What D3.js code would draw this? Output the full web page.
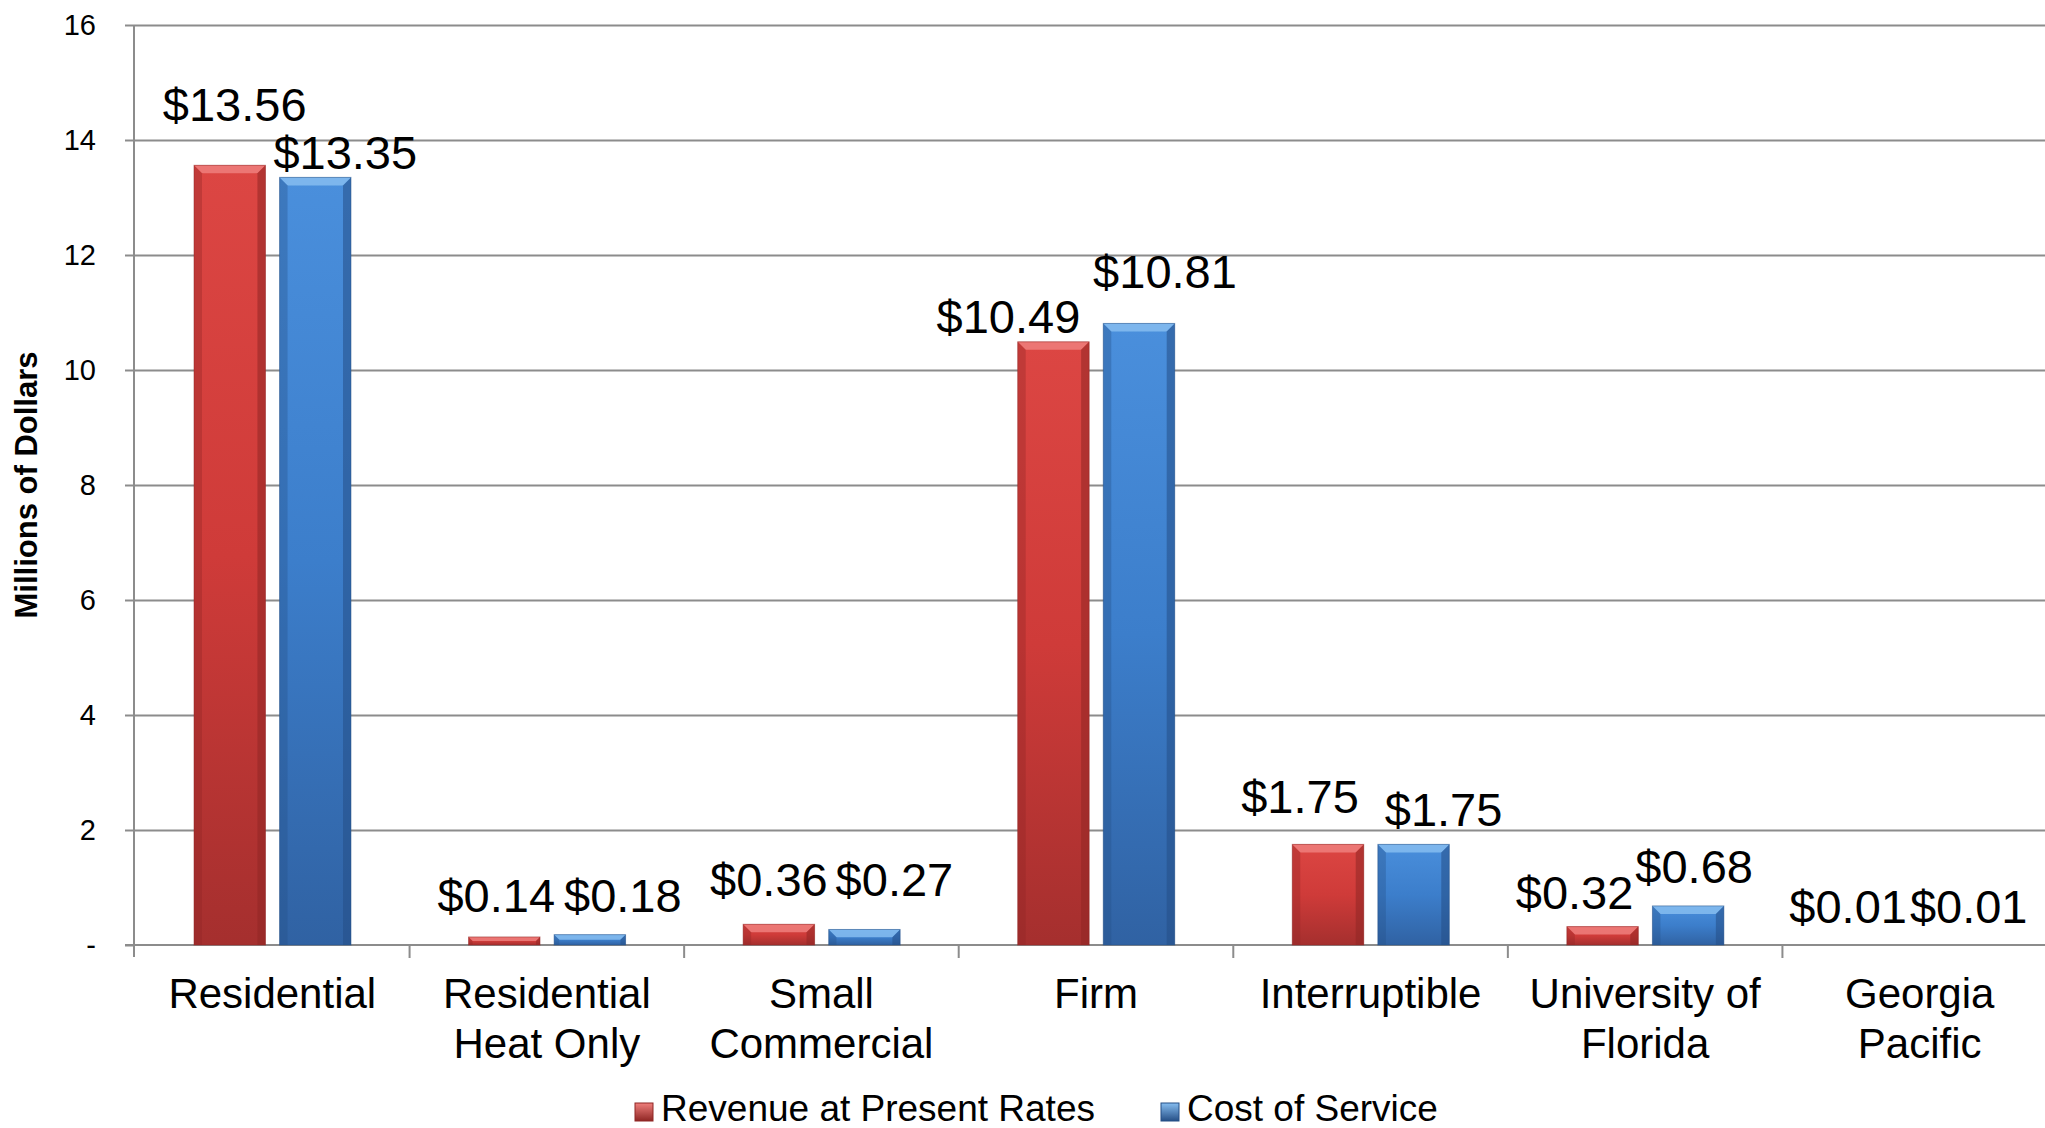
<!DOCTYPE html>
<html>
<head>
<meta charset="utf-8">
<script src="https://cdn.jsdelivr.net/npm/d3@7"></script>
<style>
  html, body { margin: 0; padding: 0; background: #fff; }
  svg { display: block; font-family: "Liberation Sans", Arial, sans-serif; }
</style>
</head>
<body>
<svg id="chart" width="2045" height="1128"></svg>
<script>
// ---- data ----
const categories = ["Residential", "Residential\nHeat Only", "Small\nCommercial", "Firm", "Interruptible", "University of\nFlorida", "Georgia\nPacific"];
const seriesNames = ["Revenue at Present Rates", "Cost of Service"];
const revenue = [13.56, 0.14, 0.36, 10.49, 1.75, 0.32, 0.01];
const cost    = [13.35, 0.18, 0.27, 10.81, 1.75, 0.68, 0.01];
const yTicks = [0, 2, 4, 6, 8, 10, 12, 14, 16];

// ---- layout (label nudges relative to bar centre / top) ----
const revenueLabelNudge = [[5, -61], [-8, -42], [-10, -45], [-45, -26], [-28, -48], [-28, -35], [-29, -38]];
const costLabelNudge    = [[30, -25], [33, -40], [30, -50], [26, -52], [30, -35], [6, -40], [6, -38]];

const W = 2045, H = 1128;
const svg = d3.select("#chart");
const defs = svg.append("defs");

const x0 = d3.scaleBand().domain(categories).range([135, 2057]).paddingInner(0).paddingOuter(0);
const x1 = d3.scaleBand().domain(seriesNames).range([59, 216]).paddingInner(0.165).paddingOuter(0);
const y = d3.scaleLinear().domain([0, 16]).range([945, 25]);

const colors = {
  "Revenue at Present Rates": { top: "#dc4643", mid: "#cf3b39", bot: "#a52f2e", light: "#ef7f7c", dark: "#8f2624" },
  "Cost of Service":          { top: "#4a8fdc", mid: "#3c7ecb", bot: "#3062a3", light: "#86bdf0", dark: "#254f86" }
};

// gradients
seriesNames.forEach((s, i) => {
  const c = colors[s];
  const g = defs.append("linearGradient").attr("id", "grad" + i).attr("x1", 0).attr("y1", 0).attr("x2", 0).attr("y2", 1);
  g.append("stop").attr("offset", "0%").attr("stop-color", c.top);
  g.append("stop").attr("offset", "50%").attr("stop-color", c.mid);
  g.append("stop").attr("offset", "100%").attr("stop-color", c.bot);
  const gl = defs.append("linearGradient").attr("id", "legGrad" + i).attr("x1", 0).attr("y1", 0).attr("x2", 0).attr("y2", 1);
  gl.append("stop").attr("offset", "0%").attr("stop-color", c.light);
  gl.append("stop").attr("offset", "100%").attr("stop-color", c.dark);
});

// gridlines
const gridColor = "#8c8c8c";
const grid = svg.append("g").attr("transform", "translate(134,0)")
  .call(d3.axisLeft(y).tickValues(yTicks.filter(d => d !== 0)).tickSize(-(W - 134)).tickFormat(""));
grid.select(".domain").remove();
grid.selectAll("line").attr("stroke", gridColor).attr("stroke-width", 2);

// y axis
const yAxis = svg.append("g").attr("transform", "translate(134,0)")
  .call(d3.axisLeft(y).tickValues(yTicks).tickSize(9).tickPadding(38)
    .tickFormat(d => d === 0 ? "-" : d));
yAxis.select(".domain").attr("stroke", gridColor).attr("stroke-width", 2).attr("d", "M0,25V957");
yAxis.selectAll(".tick line").attr("stroke", gridColor).attr("stroke-width", 2);
yAxis.selectAll(".tick text").attr("font-size", 29).attr("fill", "#000")
  .attr("font-family", "'Liberation Sans', Arial, sans-serif")
  .attr("x", -38);

// x axis baseline + category ticks
svg.append("line").attr("x1", 125).attr("x2", W).attr("y1", y(0)).attr("y2", y(0))
  .attr("stroke", gridColor).attr("stroke-width", 2);
svg.append("g").selectAll("line").data(categories.slice(1)).join("line")
  .attr("x1", d => x0(d)).attr("x2", d => x0(d))
  .attr("y1", y(0)).attr("y2", y(0) + 13)
  .attr("stroke", gridColor).attr("stroke-width", 2);

// bars
const seriesValues = [revenue, cost];
const nudges = [revenueLabelNudge, costLabelNudge];

function drawBar(g, xL, w, yT, yB, i) {
  const c = colors[seriesNames[i]];
  const h = yB - yT;
  if (h < 1) return;
  g.append("rect").attr("x", xL).attr("y", yT).attr("width", w).attr("height", h)
    .attr("fill", `url(#grad${i})`);
  const b = Math.min(8, h / 2);
  g.append("path").attr("d", `M${xL},${yT}L${xL + w},${yT}L${xL + w - b},${yT + b}L${xL + b},${yT + b}Z`)
    .attr("fill", c.light).attr("opacity", 0.85);
  g.append("path").attr("d", `M${xL},${yT}L${xL + b},${yT + b}L${xL + b},${yB}L${xL},${yB}Z`)
    .attr("fill", c.dark).attr("opacity", 0.35);
  g.append("path").attr("d", `M${xL + w},${yT}L${xL + w - b},${yT + b}L${xL + w - b},${yB}L${xL + w},${yB}Z`)
    .attr("fill", c.dark).attr("opacity", 0.55);
  g.append("rect").attr("x", xL).attr("y", yT).attr("width", w).attr("height", h)
    .attr("fill", "none").attr("stroke", c.dark).attr("stroke-opacity", 0.5).attr("stroke-width", 1);
}

const barsG = svg.append("g");
const labelsG = svg.append("g");
categories.forEach((cat, ci) => {
  seriesNames.forEach((s, si) => {
    const v = seriesValues[si][ci];
    const xL = x0(cat) + x1(s);
    const w = x1.bandwidth();
    drawBar(barsG, xL, w, y(v), y(0), si);
    const [dx, dy] = nudges[si][ci];
    labelsG.append("text")
      .attr("x", xL + w / 2 + dx)
      .attr("y", y(v) + dy)
      .attr("dy", "0.36em")
      .attr("text-anchor", "middle")
      .attr("font-size", 47)
      .attr("fill", "#000")
      .text("$" + v.toFixed(2));
  });
});

// category labels
const catG = svg.append("g");
categories.forEach(cat => {
  const lines = cat.split("\n");
  const t = catG.append("text")
    .attr("x", x0(cat) + x0.bandwidth() / 2)
    .attr("y", 1008)
    .attr("text-anchor", "middle")
    .attr("font-size", 42)
    .attr("fill", "#000");
  lines.forEach((ln, li) => {
    t.append("tspan").attr("x", x0(cat) + x0.bandwidth() / 2).attr("dy", li === 0 ? 0 : 50).text(ln);
  });
});

// y axis title
svg.append("text")
  .attr("transform", "translate(37,485) rotate(-90)")
  .attr("text-anchor", "middle")
  .attr("font-size", 31)
  .attr("font-weight", "bold")
  .attr("fill", "#000")
  .text("Millions of Dollars");

// legend
const legendX = [635, 1161];
const legend = svg.append("g");
seriesNames.forEach((s, i) => {
  const lg = legend.append("g").attr("transform", `translate(${legendX[i]},0)`);
  lg.append("rect").attr("x", 0).attr("y", 1103).attr("width", 18).attr("height", 18)
    .attr("fill", `url(#legGrad${i})`).attr("stroke", colors[s].dark).attr("stroke-width", 1);
  lg.append("text").attr("x", 26).attr("y", 1121).attr("font-size", 37).attr("fill", "#000").text(s);
});
</script>
</body>
</html>
